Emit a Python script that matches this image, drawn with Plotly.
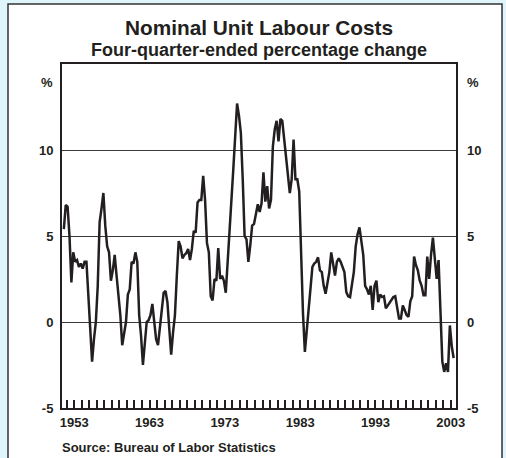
import plotly.graph_objects as go

# Four-quarter-ended percentage change in US nominal unit labour costs,
# quarterly, first observation Q4 1951
first_year = 1951
first_quarter = 4
ulc_change = [
    5.4,
    6.8, 6.7, 5.0, 2.3,
    4.05, 3.5, 3.6, 3.2,
    3.4, 3.1, 3.5, 3.5,
    1.4, -0.6, -2.3, -1.0,
    0.0, 2.1, 5.8, 6.6,
    7.5, 5.6, 4.4, 4.05,
    2.4, 3.0, 3.9, 2.7,
    1.5, 0.4, -1.35, -0.6,
    0.0, 1.6, 1.9, 3.5,
    3.4, 4.05, 3.5, 0.4,
    -0.8, -2.5, -1.2, 0.0,
    0.1, 0.4, 1.05, 0.0,
    -1.0, -1.35, -0.4, 0.8,
    1.7, 1.8, 1.15, -0.4,
    -1.9, -0.6, 0.4, 2.7,
    4.7, 4.4, 3.7, 3.9,
    4.0, 4.25, 3.6, 4.25,
    5.3, 5.2, 6.95, 7.1,
    7.1, 8.5, 7.1, 4.6,
    4.05, 1.5, 1.25, 2.5,
    2.4, 4.3, 2.5, 2.7,
    2.4, 1.7, 3.7, 5.8,
    7.1, 8.9, 10.8, 12.7,
    12.0, 11.0, 8.3, 5.0,
    4.8, 3.5, 4.45, 5.6,
    5.7, 6.2, 6.85, 6.4,
    6.9, 8.7, 7.0, 7.9,
    6.6, 7.1, 10.2, 11.2,
    11.7, 10.5, 11.8, 11.7,
    10.6, 9.3, 8.4, 7.5,
    8.3, 10.6, 8.3, 8.3,
    7.6, 4.0, 0.5, -1.74,
    -0.6, 0.8, 2.1, 3.2,
    3.4, 3.5, 3.76, 3.0,
    2.9, 2.1, 1.64, 2.4,
    2.9, 4.05, 3.3, 2.7,
    3.5, 3.7, 3.5, 3.2,
    2.9, 1.74, 1.5, 1.45,
    2.3, 2.9, 4.4, 5.1,
    5.5, 4.8, 3.9, 2.1,
    1.9, 1.6, 2.1, 0.7,
    2.1, 2.4, 1.15, 1.6,
    1.45, 1.5, 0.8, 0.95,
    1.1, 1.25, 1.45, 1.5,
    0.8, 0.2, 0.2, 0.96,
    0.7, 0.4, 0.3, 1.2,
    1.5, 3.8, 3.3, 3.0,
    2.4, 2.1, 1.55, 1.55,
    3.8, 2.5, 3.9, 4.9,
    3.7, 2.5, 3.6, 0.6,
    -2.3, -2.9, -2.4, -2.9,
    -0.2, -1.4, -2.1,
]

year_labels = [1953, 1963, 1973, 1983, 1993, 2003]
tick_years = list(range(1952, 2004))
y_ticks = [-5, 0, 5, 10]

# quarter positions on a decimal-year axis (plotted mid-period)
t0 = first_year + (first_quarter - 1) / 4 - 0.125
x_pos = [t0 + 0.25 * i for i in range(len(ulc_change))]

FONT = "Liberation Sans, Arial, Helvetica, sans-serif"
INK = "#231f20"
BG = "#e0f4fc"

# plot area geometry in pixels
W, H = 506, 458
L, R, T, B = 62, 50, 64, 50
PW, PH = W - L - R, H - T - B


def px(x):
    return (x - L) / PW


def py(y):
    return (H - B - y) / PH


fig = go.Figure()
fig.add_trace(go.Scatter(
    x=x_pos, y=ulc_change, mode="lines",
    line=dict(color=INK, width=2.5), showlegend=False, hoverinfo="skip",
))
fig.add_trace(go.Scatter(
    x=x_pos, y=ulc_change, mode="lines", yaxis="y2",
    line=dict(color="rgba(0,0,0,0)", width=0), showlegend=False,
    hoverinfo="skip",
))

tickfont = dict(family=FONT, size=13, color=INK, weight="bold")

fig.update_layout(
    width=W, height=H,
    margin=dict(l=L, r=R, t=T, b=B),
    paper_bgcolor=BG,
    plot_bgcolor="white",
    xaxis=dict(
        range=[1951.38, 2003.69],
        tickvals=tick_years,
        ticktext=[str(y) if y in year_labels else "" for y in tick_years],
        ticks="inside", ticklen=8, tickwidth=1.5, tickcolor=INK,
        showline=True, linecolor=INK, linewidth=2, mirror=True,
        showgrid=False, zeroline=False,
        tickfont=tickfont, ticklabelstandoff=1,
    ),
    yaxis=dict(
        range=[-5, 15], tickvals=y_ticks,
        ticktext=[str(v) for v in y_ticks],
        showgrid=True, gridcolor="#3a3a3a", gridwidth=1.2,
        showline=True, linecolor=INK, linewidth=2, mirror=True,
        ticks="", zeroline=False, tickfont=tickfont,
        ticklabelstandoff=4,
    ),
    yaxis2=dict(
        range=[-5, 15], tickvals=y_ticks,
        ticktext=[str(v) for v in y_ticks],
        overlaying="y", side="right", showgrid=False, showline=False,
        ticks="", zeroline=False, tickfont=tickfont,
        ticklabelstandoff=10,
    ),
    shapes=[dict(
        type="rect", xref="paper", yref="paper", layer="below",
        x0=px(8), x1=px(502), y0=py(470), y1=py(4),
        fillcolor="white", line=dict(color="#333333", width=1.5),
    )],
    annotations=[
        dict(text="Nominal Unit Labour Costs", x=0.5, y=py(27),
             xref="paper", yref="paper", showarrow=False,
             xanchor="center", yanchor="middle",
             font=dict(family=FONT, size=20.8, color=INK, weight="bold")),
        dict(text="Four-quarter-ended percentage change", x=0.5, y=py(50),
             xref="paper", yref="paper", showarrow=False,
             xanchor="center", yanchor="middle",
             font=dict(family=FONT, size=18, color=INK, weight="bold")),
        dict(text="%", x=px(55), y=py(82), xref="paper", yref="paper",
             showarrow=False, xanchor="right", yanchor="middle",
             font=tickfont),
        dict(text="%", x=px(465), y=py(82), xref="paper", yref="paper",
             showarrow=False, xanchor="left", yanchor="middle",
             font=tickfont),
        dict(text="Source: Bureau of Labor Statistics", x=px(60), y=py(447),
             xref="paper", yref="paper", showarrow=False,
             xanchor="left", yanchor="middle",
             font=dict(family=FONT, size=13, color=INK, weight="bold")),
    ],
)

fig.write_html(
    "out.html",
    config={"displayModeBar": False},
    post_script="document.body.style.margin='0';"
                "document.body.style.background='" + BG + "';",
)
